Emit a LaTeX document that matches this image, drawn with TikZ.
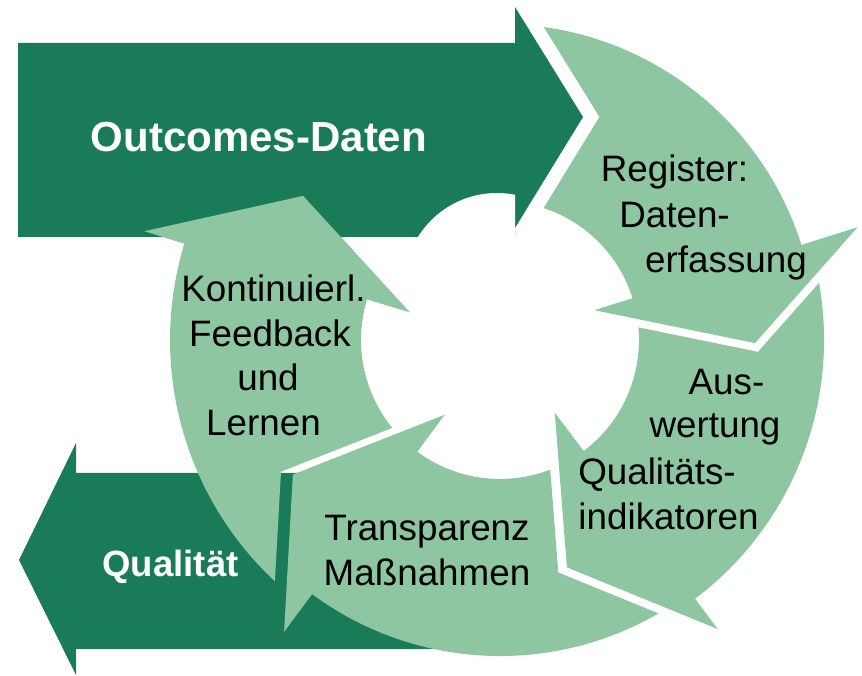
\documentclass[tikz,border=0pt]{standalone}
\usepackage{fontspec}
\setmainfont{Liberation Sans}
\usetikzlibrary{calc,intersections}
\definecolor{dkgreen}{RGB}{25,123,88}
\definecolor{ltgreen}{RGB}{142,198,161}
% head points: prefix, base angle, tip angle, tip radius, inner barb radius, outer barb radius
\newcommand{\headpts}[6]{%
  \coordinate (#1Pi) at ($(C)+(#2:#5)$);
  \coordinate (#1Pt) at ($(C)+(#3:#4)$);
  \coordinate (#1Po) at ($(C)+(#2:#6)$);
}
% notch of arrow #1 following head #2, gaps #3 (inner edge) and #4 (outer edge), outer radius #5
\newcommand{\notchpts}[5]{%
  \coordinate (#1aa) at ($(#2Pi)!#3!-90:(#2Pt)$);
  \coordinate (#1ba) at ($(#2Pt)!#3!90:(#2Pi)$);
  \coordinate (#1ab) at ($(#2Pt)!#4!-90:(#2Po)$);
  \coordinate (#1bb) at ($(#2Po)!#4!90:(#2Pt)$);
  \coordinate (#1N) at (intersection of #1aa--#1ba and #1ab--#1bb);
  \path[name path=#1La] (#1aa) -- (#1ba);
  \path[name path=#1Lb] (#1ab) -- (#1bb);
  \path[name path=#1Ci] (C) circle[radius=139];
  \path[name path=#1Co] (C) circle[radius=#5];
  \path[name intersections={of=#1La and #1Ci, by=#1Ic}];
  \path[name intersections={of=#1Lb and #1Co, by=#1Oc}];
}
\newcommand{\ringpath}[3]{%
  let \p1=($(#1Oc)-(C)$), \p2=($(#1Ic)-(C)$),
      \n1={atan2(\y1,\x1)}, \n2={atan2(\y2,\x2)} in
  (#1Ic) -- (#1N) -- (#1Oc) arc[start angle=\n1, end angle=#2, radius=#3]
  -- (#1Po) -- (#1Pt) -- (#1Pi) -- ($(C)+(#2:139)$)
  arc[start angle=#2, end angle=\n2, radius=139] -- cycle}
\begin{document}
\begin{tikzpicture}[x=1pt,y=1pt,
  lbl/.style={font=\fontsize{36.8}{44}\selectfont, text=black, inner sep=0pt, anchor=base},
  wlbl/.style={font=\fontsize{42}{48}\selectfont\bfseries, text=white, inner sep=0pt, anchor=base},
  qlbl/.style={font=\fontsize{36.5}{44}\selectfont\bfseries, text=white, inner sep=0pt, anchor=base},
  dark/.style={fill=dkgreen},
  light/.style={fill=ltgreen}]
\useasboundingbox (0,0) rectangle (862,676);
\coordinate (C) at (500,336);
% Outcomes arrow head points
\coordinate (OPi) at (515,448);
\coordinate (OPt) at (583,559);
\coordinate (OPo) at (515,669);
\headpts{R}{17.5}{-0.7}{255}{99}{375}
\headpts{A}{-53}{-73.6}{237}{91}{362}
\headpts{T}{-126.5}{-147}{247}{93}{363}
\headpts{K}{-197}{-216.2}{244}{94}{372}
\notchpts{R}{O}{14pt}{14pt}{316}
\notchpts{A}{R}{8pt}{8pt}{324}
\notchpts{T}{A}{9pt}{8pt}{316}
\notchpts{K}{T}{7pt}{12pt}{330}
% Qualitaet arrow
\path[dark] (19,116) -- (76,233) -- (76,203) -- (445,203) -- (445,27) -- (76,27) -- (76,1) -- cycle;
% cycle arrows
\path[light] \ringpath{K}{-197}{330};
\path[light] \ringpath{T}{-126.5}{316};
\path[light] \ringpath{A}{-53}{324};
\path[light] \ringpath{R}{17.5}{316};
% Outcomes arrow
\path[dark] (18,633) -- (515,633) -- (OPo) -- (OPt) -- (OPi) -- (515,439) -- (18,439) -- cycle;
\begin{scope}
  \clip (0,430) rectangle (515,676);
  \fill[white] (497,390) circle[radius=93];
\end{scope}
\begin{scope}
  \clip (0,426) rectangle (862,676);
  \path[light] \ringpath{K}{-197}{330};
\end{scope}
% texts
\node[wlbl] (outc) at (259,524) {Outcomes-Daten};
\node[qlbl] (qual) at (170.5,99.3) {Qualität};
\node[lbl] (r1) at (674.5,494) {Register:};
\node[lbl] (r2) at (674.5,448) {Daten-};
\node[lbl] (r3) at (726,403) {erfassung};
\node[lbl] (a1) at (726.5,281) {Aus-};
\node[lbl] (a2) at (715,238) {wertung};
\node[lbl] (a3) at (657,191) {Qualitäts-};
\node[lbl] (a4) at (668.5,146) {indikatoren};
\node[lbl] (t1) at (427,135) {Transparenz};
\node[lbl] (t2) at (427,90) {Maßnahmen};
\node[lbl] (k1) at (273.5,374) {Kontinuierl.};
\node[lbl] (k2) at (270,329) {Feedback};
\node[lbl] (k3) at (268,285) {und};
\node[lbl] (k4) at (263.5,240) {Lernen};
\end{tikzpicture}
\end{document}
